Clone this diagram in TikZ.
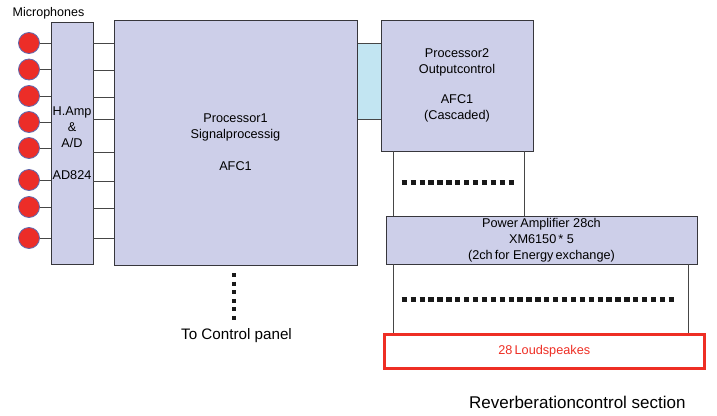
\documentclass[tikz,border=0pt]{standalone}
\usepackage{fontspec}
\setmainfont{Liberation Sans}
\definecolor{boxfill}{RGB}{205,207,233}
\definecolor{linkfill}{RGB}{194,229,242}
\definecolor{micred}{RGB}{236,45,40}
\definecolor{micedge}{RGB}{95,105,175}
\definecolor{edgegray}{RGB}{55,55,60}
\definecolor{wiregray}{RGB}{70,70,70}
\definecolor{spkred}{RGB}{238,46,36}
\begin{document}
\begin{tikzpicture}[x=1pt,y=-1pt,
  box/.style={draw=edgegray, fill=boxfill, line width=0.9pt, inner sep=0pt,
    align=center, font=\fontsize{12.7}{16}\selectfont},
  linkbox/.style={draw=wiregray, fill=linkfill, line width=0.6pt, inner sep=0pt},
  spkbox/.style={draw=spkred, line width=2.6pt, inner sep=0pt, text=spkred,
    font=\fontsize{12.7}{16}\selectfont},
  mic/.style={circle, draw=micedge, fill=micred, line width=0.8pt,
    minimum size=21pt, inner sep=0pt},
  wire/.style={draw=wiregray, line width=0.7pt},
  dotline/.style={line width=4.6pt, dash pattern=on 5.3pt off 3.6pt, black!90},
  vdotline/.style={line width=4pt, dash pattern=on 4pt off 4.6pt, black!90},
  lbl/.style={inner sep=0pt, anchor=base west}
]
\useasboundingbox (0,0) rectangle (717,415);

% link between processors
\node[linkbox, minimum width=24pt, minimum height=76pt] (link) at (369,81.3) {};

% boxes
\node[box, minimum width=42pt, minimum height=242pt] (hamp) at (72,143)
  {H.Amp\\\&\\A/D\\[16pt]AD824};
\node[box, minimum width=243pt, minimum height=245pt] (p1) at (235.5,142.5)
  {Processor1\\Signalprocessig\\[16pt]AFC1};
\node[box, minimum width=152pt, minimum height=131pt] (p2) at (457,85.5)
  {Processor2\\Outputcontrol\\[14pt]AFC1\\(Cascaded)};
\node[box, minimum width=311pt, minimum height=48pt] (pa) at (541.5,240)
  {Power\,Amplifier 28ch\\XM6150\,* 5\\(2ch\,for Energy\,exchange)};
\node[spkbox, minimum width=320pt, minimum height=34pt] (spk) at (544.3,351.3)
  {28\,Loudspeakes};

% microphones
\foreach \i/\y in {1/43,2/69.5,3/96,4/122,5/148,6/180,7/207,8/238}{
  \node[mic] (m\i) at (29,\y) {};
}
\foreach \i in {1,...,8}{
  \draw[wire] (m\i.east) -- (m\i.east -| hamp.west);
}

% hamp -> p1 wires
\foreach \i/\y in {1/43,2/70,3/97,4/119,5/152,6/181,7/208,8/238}{
  \coordinate (r\i) at (0,\y);
  \draw[wire] (hamp.east |- r\i) -- (p1.west |- r\i);
}

% vertical connectors
\coordinate (v1) at (393.3,0);
\coordinate (v2) at (524.3,0);
\coordinate (v4) at (688,0);
\draw[wire] (p2.south -| v1) -- (pa.north -| v1);
\draw[wire] (p2.south -| v2) -- (pa.north -| v2);
\draw[wire] (pa.south -| v1) -- (spk.north -| v1);
\draw[wire] (pa.south -| v4) -- (spk.north -| v4);

% dotted marks
\draw[dotline] (401.7,182.3) -- (516,182.3);
\draw[dotline] (401.7,299.3) -- (677,299.3);
\draw[vdotline] (234.3,273) -- (234.3,320);

% labels
\node[lbl, font=\fontsize{12.5}{14}\selectfont] (miclbl) at (12.5,16.5) {Microphones};
\node[lbl, font=\fontsize{15.2}{18}\selectfont] (ctrl) at (181,339) {To Control panel};
\node[lbl, font=\fontsize{17}{20}\selectfont] (rev) at (469,408.3) {Reverberationcontrol section};
\end{tikzpicture}
\end{document}
